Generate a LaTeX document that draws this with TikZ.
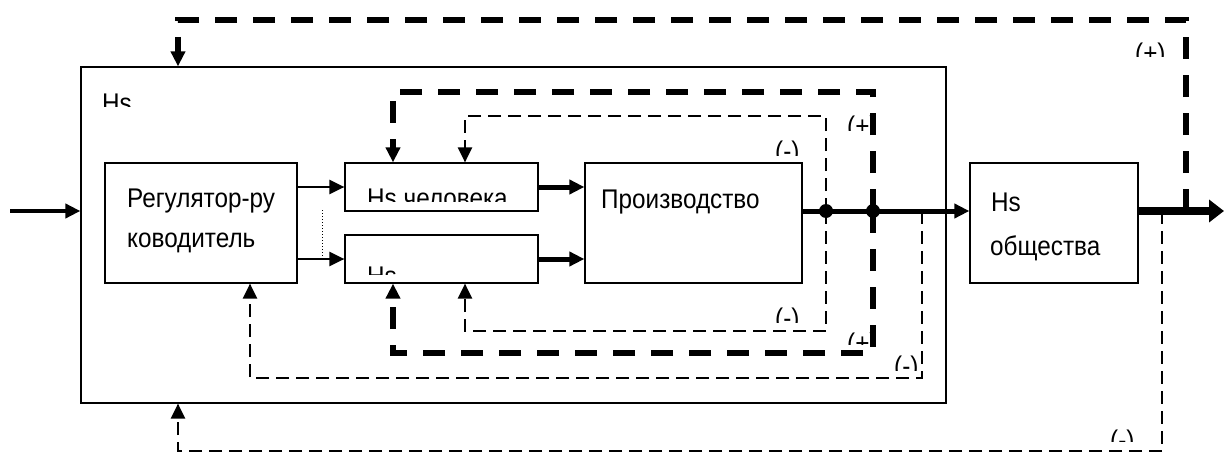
\documentclass[tikz,border=0pt]{standalone}
\usepackage{fontspec}
\setmainfont{Liberation Sans}
\usetikzlibrary{arrows.meta}

\begin{document}
\begin{tikzpicture}[
    x=1pt, y=-1pt,
    block/.style={
      draw,
      line width=1.2pt,
      inner sep=0pt
    },
    txt/.style={anchor=base west, inner sep=0pt, xscale=0.9, font=\fontsize{27}{32}\selectfont},
    tip/.style={-{Triangle[length=15pt,width=14pt]}},
    flow/.style={tip, line width=2.5pt},
    heavy/.style={tip, line width=5pt},
    fbthin/.style={tip, line width=2.3pt, dash pattern=on 13pt off 7pt},
    fbthick/.style={tip, line width=5.5pt, dash pattern=on 22pt off 16pt},
    dot/.style={circle, fill, inner sep=0pt, minimum size=14pt}
  ]

  \useasboundingbox (0,0) rectangle (1224,452);

  \node[block, minimum width=865pt, minimum height=336pt] (outer) at (513.5,235) {};
  \node[block, minimum width=192pt, minimum height=120pt] (reg) at (201,223) {};
  \node[block, minimum width=193pt, minimum height=48pt] (hsman) at (441.5,187) {};
  \node[block, minimum width=193pt, minimum height=48pt] (hsb) at (441.5,259) {};
  \node[block, minimum width=217pt, minimum height=120pt] (prod) at (693.5,223) {};
  \node[block, minimum width=168pt, minimum height=120pt] (hssoc) at (1054,223) {};

  \node[txt] (tregA) at (127,207) {Регулятор-ру};
  \node[txt] (tregB) at (127,247) {ководитель};
  \node[txt] (tprod) at (601,208) {Производство};
  \node[txt] (tsocA) at (991,211) {Hs};
  \node[txt] (tsocB) at (990,255) {общества};

  % texts cut off by their boxes
  \begin{scope}
    \clip (81,67) rectangle (300,106);
    \node[txt] (tout) at (102,112) {Hs};
  \end{scope}
  \begin{scope}
    \clip (hsman.north west) rectangle (538,201);
    \node[txt] (tman) at (367,207.5) {Hs человека};
  \end{scope}
  \begin{scope}
    \clip (hsb.north west) rectangle (538,274);
    \node[txt] (tb) at (367,285.5) {Hs};
  \end{scope}

  \coordinate (in) at (10,211);
  \coordinate (out) at (1224,211);
  \coordinate (d1) at (826,211);
  \coordinate (d2) at (873,211);
  \coordinate (t3) at (922,211);
  \coordinate (t4) at (1162,211);
  \coordinate (t5) at (1186,211);

  \coordinate (c1) at (465,116);
  \coordinate (c2) at (465,331);
  \coordinate (c3) at (393,92);
  \coordinate (c4) at (393,353);
  \coordinate (c5) at (250,378);
  \coordinate (c6) at (178,451);
  \coordinate (c7) at (178,20);

  \coordinate (s1) at (322,210);
  \coordinate (s2) at (322,257);

  \draw[heavy, line width=4pt] (in) -- (outer.west |- in);
  \draw[flow] (reg.east |- hsman.west) -- (hsman.west);
  \draw[flow] (reg.east |- hsb.west) -- (hsb.west);
  \draw[dotted, line width=1pt] (s1) -- (s2);
  \draw[heavy] (hsman.east) -- (prod.west |- hsman.east);
  \draw[heavy] (hsb.east) -- (prod.west |- hsb.east);
  \draw[heavy] (prod.east |- d1) -- (hssoc.west |- d1);
  \draw[line width=8pt, -{Triangle[length=15pt,width=22pt]}] (hssoc.east |- out) -- (out);

  \draw[fbthin] (d1) |- (c1) -- (c1 |- hsman.north);
  \draw[fbthin] (d1) |- (c2) -- (c2 |- hsb.south);
  \draw[fbthick] (d2) |- (c3) -- (c3 |- hsman.north);
  \draw[fbthick] (d2) |- (c4) -- (c4 |- hsb.south);
  \draw[fbthin] (t3) |- (c5) -- (c5 |- reg.south);
  \draw[fbthin] (t4) |- (c6) -- (c6 |- outer.south);
  \draw[fbthick] (t5) |- (c7) -- (c7 |- outer.north);

  \node[dot] (j1) at (d1) {};
  \node[dot] (j2) at (d2) {};

  % signs of the loops
  \foreach \n/\x/\y/\cx/\cy/\s in {a/1135/63/1170/57/(+), b/775/160/802/155/(-),
      c/847/135/871/130/(+), d/775/327/802/322/(-), e/847/352/871/344/(+),
      f/894/375/921/370/(-), g/1110/449/1140/441/(-)} {
    \begin{scope}
      \clip (\x-2,\y-27) rectangle (\cx,\cy);
      \node[txt] (sign\n) at (\x,\y) {\s};
    \end{scope}
  }

\end{tikzpicture}
\end{document}
